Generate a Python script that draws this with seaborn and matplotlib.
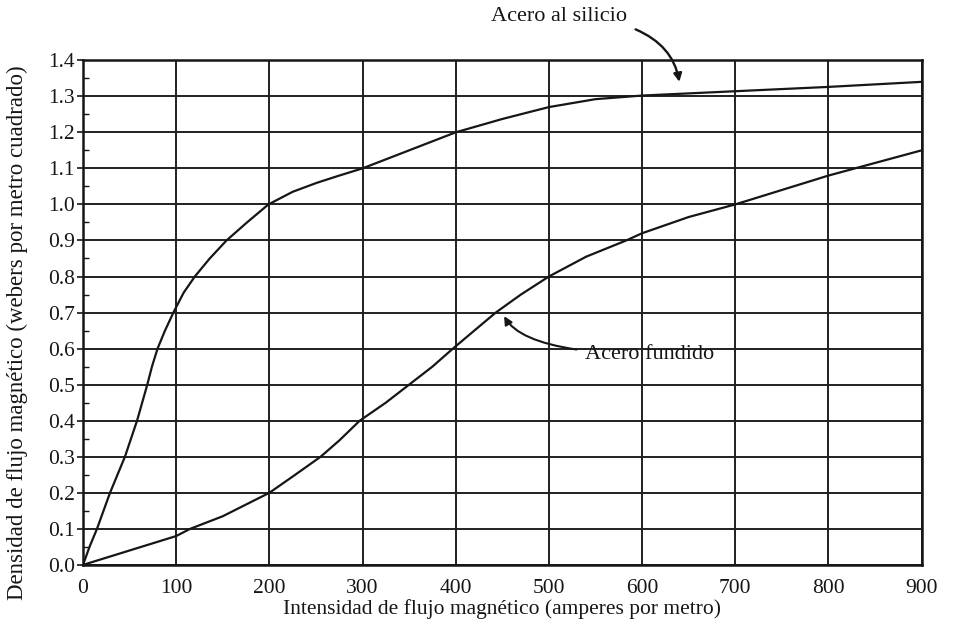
import matplotlib
matplotlib.use("Agg")
import matplotlib.pyplot as plt
import seaborn as sns
import pandas as pd
from matplotlib.ticker import MultipleLocator

# Data (B-H curves)
silicon_h = [0, 7, 15, 29, 45, 58, 69, 74, 80, 88, 97, 108, 120, 136, 154, 176, 199,
             225, 251, 275, 300, 350, 400, 450, 500, 550, 600, 650, 700, 750,
             800, 850, 900]
silicon_b = [0.0, 0.05, 0.1, 0.2, 0.3, 0.4, 0.5, 0.55, 0.6, 0.65, 0.7, 0.755, 0.8, 0.85,
             0.9, 0.95, 1.0, 1.035, 1.06, 1.08, 1.1, 1.15, 1.2, 1.237, 1.27,
             1.292, 1.302, 1.308, 1.314, 1.32, 1.326, 1.333, 1.34]
cast_h = [0, 50, 100, 115, 150, 200, 225, 255, 275, 297, 325, 350, 375, 397,
          420, 443, 470, 500, 540, 583, 600, 650, 700, 750, 800, 850, 900]
cast_b = [0.0, 0.04, 0.08, 0.1, 0.135, 0.2, 0.245, 0.3, 0.345, 0.4, 0.45, 0.5,
          0.55, 0.6, 0.65, 0.7, 0.75, 0.8, 0.855, 0.9, 0.92, 0.965, 1.0, 1.04,
          1.08, 1.115, 1.15]
x_ticks = [0, 100, 200, 300, 400, 500, 600, 700, 800, 900]
y_ticks = [0.0, 0.1, 0.2, 0.3, 0.4, 0.5, 0.6, 0.7, 0.8, 0.9, 1.0, 1.1, 1.2, 1.3, 1.4]
label_silicon = "Acero al silicio"
label_cast = "Acero fundido"
xlabel = "Intensidad de flujo magnético (amperes por metro)"
ylabel = "Densidad de flujo magnético (webers por metro cuadrado)"

sns.set_style("white")
plt.rcParams['font.family'] = ['Liberation Serif', 'DejaVu Serif']

df = pd.concat([
    pd.DataFrame({"H": silicon_h, "B": silicon_b, "mat": label_silicon}),
    pd.DataFrame({"H": cast_h, "B": cast_b, "mat": label_cast}),
])

ink = "#161616"
fig = plt.figure(figsize=(9.54, 6.34), dpi=100)
ax = fig.add_axes([0.087, 0.109, 0.879, 0.796])

sns.lineplot(data=df, x="H", y="B", units="mat", estimator=None, sort=False,
             color=ink, linewidth=1.6, ax=ax, legend=False)

ax.set_xlim(0, 900)
ax.set_ylim(0, 1.4)
ax.set_xticks(x_ticks)
ax.set_xticklabels([str(v) for v in x_ticks])
ax.set_yticks(y_ticks)
ax.set_yticklabels([f"{v:.1f}" for v in y_ticks])
ax.yaxis.set_minor_locator(MultipleLocator(0.05))
ax.grid(True, which="major", color="#202020", linewidth=1.4)
ax.set_axisbelow(True)
for s in ax.spines.values():
    s.set_color(ink)
    s.set_linewidth(1.8)
    s.set_visible(True)
ax.tick_params(axis="both", which="major", direction="out", length=4, width=1.2,
               labelsize=15.5, colors=ink, pad=2)
ax.tick_params(axis="y", which="minor", direction="in", length=4, width=1.0,
               left=True, colors=ink)
ax.tick_params(axis="y", which="major", left=True)
ax.tick_params(axis="x", which="major", bottom=False, pad=6)

ax.set_xlabel(xlabel, fontsize=15.5, color=ink, labelpad=1)
ax.set_ylabel(ylabel, fontsize=16.5, color=ink)
ax.yaxis.set_label_coords(-0.066, 0.46)

ax.annotate(label_silicon, xy=(640, 1.34), xytext=(584, 1.52),
            textcoords="data", ha="right", va="center", fontsize=16,
            color=ink, annotation_clip=False,
            arrowprops=dict(arrowstyle="-|>", color=ink, lw=1.7,
                            mutation_scale=12,
                            connectionstyle="angle3,angleA=0,angleB=100",
                            shrinkA=4, shrinkB=0))
ax.annotate(label_cast, xy=(452, 0.69), xytext=(539, 0.585),
            textcoords="data", ha="left", va="center", fontsize=16,
            color=ink,
            arrowprops=dict(arrowstyle="-|>", color=ink, lw=1.5,
                            mutation_scale=12,
                            connectionstyle="angle3,angleA=0,angleB=-60",
                            shrinkA=4, shrinkB=0))

fig.savefig("out.png", dpi=100, facecolor="white")
